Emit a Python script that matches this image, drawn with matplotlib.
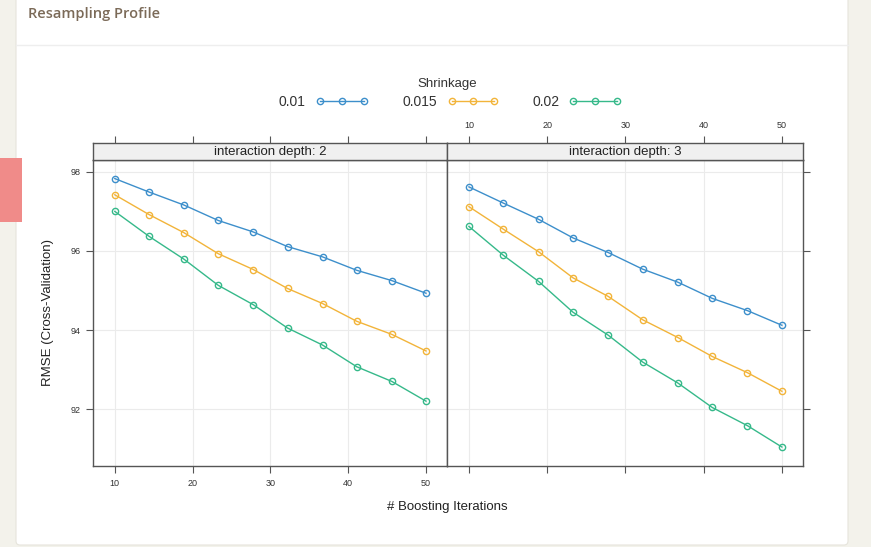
import matplotlib
matplotlib.use("Agg")
import matplotlib.pyplot as plt
from matplotlib.patches import FancyBboxPatch, Rectangle
from matplotlib.lines import Line2D

plt.rcParams["font.family"] = ["Liberation Sans", "DejaVu Sans"]

# ---------- Data ----------
iterations = [10, 14.4, 18.9, 23.3, 27.8, 32.2, 36.7, 41.1, 45.6, 50]
shrinkage = ["0.01", "0.015", "0.02"]
panels = ["interaction depth: 2", "interaction depth: 3"]

rmse_depth2 = {
    "0.01": [97.83, 97.49, 97.16, 96.77, 96.48, 96.11, 95.85, 95.51, 95.25, 94.93],
    "0.015": [97.42, 96.92, 96.46, 95.93, 95.53, 95.05, 94.67, 94.22, 93.89, 93.47],
    "0.02": [97.00, 96.37, 95.79, 95.13, 94.64, 94.05, 93.62, 93.07, 92.70, 92.20],
}
rmse_depth3 = {
    "0.01": [97.62, 97.21, 96.80, 96.33, 95.96, 95.54, 95.21, 94.80, 94.49, 94.12],
    "0.015": [97.12, 96.55, 95.98, 95.32, 94.85, 94.26, 93.81, 93.33, 92.92, 92.45],
    "0.02": [96.62, 95.89, 95.23, 94.45, 93.87, 93.19, 92.66, 92.04, 91.58, 91.04],
}
x_ticks = [10, 20, 30, 40, 50]
y_ticks = [92, 94, 96, 98]

colors = {"0.01": "#3d8fcb", "0.015": "#f2b43a", "0.02": "#36b98a"}

W, H = 871, 547
fig = plt.figure(figsize=(W / 100, H / 100), dpi=100)
fig.patch.set_facecolor("#f3f2eb")


def frac(x0, y0, x1, y1):
    # pixel box (top-left origin) -> figure fraction rect
    return [x0 / W, 1 - y1 / H, (x1 - x0) / W, (y1 - y0) / H]


# ---------- Card background ----------
bg = fig.add_axes([0, 0, 1, 1])
bg.set_xlim(0, W)
bg.set_ylim(H, 0)
bg.axis("off")
bg.add_patch(FancyBboxPatch((16, -10), 832, 555, boxstyle="round,pad=0,rounding_size=4",
                            facecolor="white", edgecolor="#e6e4dc", lw=0.8))
bg.add_patch(Rectangle((0, 158), 22, 64, facecolor="#f08b89", edgecolor="none"))
bg.plot([16, 848], [45, 45], color="#eeeeee", lw=1)
bg.text(28, 14, "Resampling Profile", fontsize=10.5, fontweight="semibold",
        family=["Open Sans", "DejaVu Sans"], color="#7b6a58", va="center")

# ---------- Legend ----------
bg.text(447, 84, "Shrinkage", fontsize=9.5, ha="center", va="center", color="#333333")
legend_pos = [(292, 320, 364), (420, 452, 494), (546, 573, 617)]
for s, (tx, l0, l1) in zip(shrinkage, legend_pos):
    bg.text(tx, 102, s, fontsize=10, ha="center", va="center", color="#333333")
    bg.add_line(Line2D([l0, (l0 + l1) / 2, l1], [101, 101, 101], color=colors[s], lw=1,
                       marker="o", markersize=4.5, markerfacecolor="none",
                       markeredgewidth=1))

# ---------- Panels ----------
xlim = (7.2, 52.7)
ylim = (90.56, 98.3)
boxes = [(93, 447), (447, 803)]
data = [rmse_depth2, rmse_depth3]
edge = "#555555"

for k, ((x0, x1), title, d) in enumerate(zip(boxes, panels, data)):
    ax = fig.add_axes(frac(x0, 160, x1, 466))
    strip = fig.add_axes(frac(x0, 143, x1, 160))

    for s in shrinkage:
        ax.plot(iterations, d[s], color=colors[s], lw=1, marker="o", markersize=4.5,
                markerfacecolor="none", markeredgewidth=1)

    ax.set_xlim(xlim)
    ax.set_ylim(ylim)
    ax.set_xticks(x_ticks)
    ax.set_yticks(y_ticks)
    ax.grid(True, color="#ebebeb", lw=0.8)
    ax.set_axisbelow(True)
    for sp in ax.spines.values():
        sp.set_color(edge)
        sp.set_linewidth(1)
    ax.tick_params(direction="out", length=5, width=0.8, color=edge, labelsize=6.5,
                   labelcolor="#333333", pad=4)

    strip.set_xlim(xlim)
    strip.set_facecolor("#f0f0f0")
    strip.set_yticks([])
    strip.set_xticks(x_ticks)
    for sp in strip.spines.values():
        sp.set_color(edge)
        sp.set_linewidth(1)
    strip.text(0.5, 0.45, title, transform=strip.transAxes, ha="center", va="center",
               fontsize=9.5, color="#222222")
    strip.tick_params(axis="x", direction="out", length=5, width=0.8, color=edge,
                      labelsize=6.5, labelcolor="#333333", top=True, bottom=False,
                      labeltop=(k == 1), labelbottom=False, pad=4)

    if k == 0:
        ax.tick_params(axis="y", left=True, right=False, labelleft=True)
        ax.tick_params(axis="x", bottom=True, labelbottom=True)
    else:
        ax.tick_params(axis="y", left=False, right=True, labelleft=False, labelright=False)
        ax.tick_params(axis="x", bottom=True, labelbottom=False)

fig.text(447 / W, 1 - 507 / H, "# Boosting Iterations", ha="center", va="center",
         fontsize=9.5, color="#222222")
fig.text(48 / W, 1 - 313 / H, "RMSE (Cross-Validation)", ha="center", va="center",
         rotation=90, fontsize=9.5, color="#222222")

fig.savefig("out.png", dpi=100, facecolor=fig.get_facecolor())
